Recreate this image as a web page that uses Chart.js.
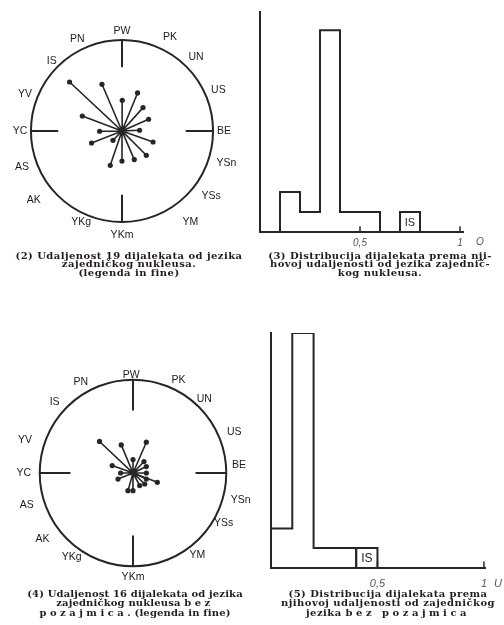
<!DOCTYPE html>
<html lang="hr">
<head>
<meta charset="UTF-8" />
<title>Udaljenost dijalekata od jezika zajedničkog nukleusa</title>
<script src="https://cdn.jsdelivr.net/npm/chart.js"></script>
<style>
  html, body { margin: 0; padding: 0; background: #fff; }
  body { width: 504px; height: 625px; position: relative; overflow: hidden; }
  canvas { position: absolute; }
  .cap { position: absolute; text-align: center; white-space: nowrap; font-family: "DejaVu Serif", serif; font-weight: bold; }
  .cap.top { font-size: 10px; line-height: 8.3px; letter-spacing: 0.45px; color: #221a1a; }
  .cap.bot { font-size: 10px; line-height: 9.3px; letter-spacing: 0.15px; color: #1e1e1e; }
  .cap.wide { letter-spacing: 0.45px; }
  .sp { letter-spacing: 3.5px; }
</style>
</head>
<body>

<canvas id="star1" width="244" height="244" style="left:0px; top:9px;"></canvas>
<canvas id="hist1" width="254" height="260" style="left:250px; top:0px;"></canvas>
<canvas id="star2" width="250" height="250" style="left:8px; top:348px;"></canvas>
<canvas id="hist2" width="254" height="290" style="left:250px; top:320px;"></canvas>

<div class="cap top" style="left:4px; top:252px; width:250px;">(2) Udaljenost 19 dijalekata od jezika<br>zajedničkog nukleusa.<br>(legenda in fine)</div>
<div class="cap top" style="left:260px; top:252px; width:240px;">(3) Distribucija dijalekata prema nji-<br>hovoj udaljenosti od jezika zajednič-<br>kog nukleusa.</div>
<div class="cap bot" style="left:10px; top:589px; width:250px;">(4) Udaljenost 16 dijalekata od jezika<br>zajedničkog nukleusa <span class="sp">bez</span><br><span class="sp">pozajmica</span>. (legenda in fine)</div>
<div class="cap bot wide" style="left:273px; top:589px; width:230px;">(5) Distribucija dijalekata prema<br>njihovoj udaljenosti od zajedničkog<br>jezika <span class="sp">bez pozajmica</span></div>

<script>
  // oznake dijalekata oko kruga
  const dialects = ['PW', 'PK', 'UN', 'US', 'BE', 'YSn', 'YSs', 'YM', 'YKm', 'YKg', 'AK', 'AS', 'YC', 'YV', 'IS', 'PN'];
  const labelAngle1 = [90, 63, 45, 23, 0, -17, -36, -53, -90, -114, -142, -160, 180, 159, 135, 116];
  const labelDist1 = [1.10, 1.16, 1.15, 1.15, 1.12, 1.20, 1.21, 1.25, 1.14, 1.10, 1.23, 1.17, 1.12, 1.14, 1.09, 1.12];
  const labelAngle2 = [91, 64, 46, 22, 4, -14, -29, -52, -90, -126, -144, -163, 180, 163, 138, 120];
  const labelDist2 = [1.05, 1.11, 1.10, 1.17, 1.14, 1.19, 1.11, 1.12, 1.12, 1.12, 1.20, 1.19, 1.17, 1.21, 1.13, 1.12];
  const axisAngles = [90, 0, -90, 180];

  // (2) krajevi zraka, polumjer kruga = 1
  const star1X = [-0.576, -0.220, 0.171, 0.003, 0.231, 0.292, -0.436, -0.246, 0.193, 0.341, -0.334, -0.099, 0.267, -0.129, 0.000, 0.135];
  const star1Y = [0.538, 0.513, 0.418, 0.337, 0.257, 0.129, 0.165, -0.003, 0.008, -0.121, -0.132, -0.102, -0.267, -0.377, -0.330, -0.314];

  // (4) bez pozajmica
  const star2X = [-0.359, -0.126, 0.143, 0.000, 0.118, 0.143, -0.223, -0.133, 0.143, -0.161, 0.261, 0.143, -0.054, 0.000, 0.072, 0.126];
  const star2Y = [0.338, 0.301, 0.330, 0.144, 0.123, 0.069, 0.080, 0.000, 0.000, -0.065, -0.100, -0.065, -0.189, -0.189, -0.135, -0.118];

  // (3) distribucija
  const hist1Edges = [0.1, 0.2, 0.3, 0.4, 0.5, 0.6];
  const hist1Counts = [2, 1, 10, 1, 1];
  const hist1Box = [0.7, 0.8];
  // (5) distribucija bez pozajmica
  const hist2Edges = [0, 0.1, 0.2, 0.4];
  const hist2Counts = [2, 12, 1];
  const hist2Box = [0.4, 0.5];
  const boxCount = 1;
  const boxLabel = 'IS';

  const xTickVals = [0.5, 1];
  const xTickText = ['0,5', '1'];

  const ink = '#262626';

  const radialPlugin = {
    id: 'radial',
    beforeDatasetsDraw(chart, args, opts) {
      const { ctx, scales: { x, y } } = chart;
      const cx = x.getPixelForValue(0), cy = y.getPixelForValue(0);
      const r = x.getPixelForValue(1) - cx;
      ctx.save();
      ctx.strokeStyle = ink;
      ctx.lineWidth = 2;
      ctx.beginPath();
      ctx.arc(cx, cy, r, 0, Math.PI * 2);
      ctx.stroke();
      axisAngles.forEach(a => {
        const t = a * Math.PI / 180;
        ctx.beginPath();
        ctx.moveTo(x.getPixelForValue(Math.cos(t)), y.getPixelForValue(Math.sin(t)));
        ctx.lineTo(x.getPixelForValue((1 - opts.tick) * Math.cos(t)), y.getPixelForValue((1 - opts.tick) * Math.sin(t)));
        ctx.stroke();
      });
      ctx.font = '10.5px "Liberation Sans"';
      ctx.fillStyle = '#1c1c1c';
      ctx.textAlign = 'center';
      ctx.textBaseline = 'middle';
      dialects.forEach((d, i) => {
        const t = opts.angles[i] * Math.PI / 180;
        ctx.fillText(d, x.getPixelForValue(opts.dists[i] * Math.cos(t)), y.getPixelForValue(opts.dists[i] * Math.sin(t)));
      });
      ctx.restore();
    }
  };

  function starChart(id, xs, ys, angles, dists, tick) {
    const pts = [];
    xs.forEach((v, i) => {
      pts.push({ x: 0, y: 0 });
      pts.push({ x: v, y: ys[i] });
    });
    return new Chart(document.getElementById(id), {
      type: 'scatter',
      data: {
        datasets: [{
          data: pts,
          showLine: true,
          borderColor: ink,
          borderWidth: 1.6,
          pointRadius: c => c.dataIndex % 2 ? 2.6 : 2.2,
          pointBackgroundColor: ink,
          pointBorderWidth: 0
        }]
      },
      options: {
        responsive: false,
        animation: false,
        events: [],
        layout: { padding: 0, autoPadding: false },
        plugins: {
          legend: { display: false },
          tooltip: { enabled: false },
          radial: { angles: angles, dists: dists, tick: tick }
        },
        scales: {
          x: { display: false, min: -1.34, max: 1.34 },
          y: { display: false, min: -1.34, max: 1.34 }
        }
      },
      plugins: [radialPlugin]
    });
  }

  const histPlugin = {
    id: 'histExtras',
    afterDatasetsDraw(chart, args, opts) {
      const { ctx, scales: { x, y } } = chart;
      const y0 = y.getPixelForValue(0);
      ctx.save();
      ctx.strokeStyle = ink;
      ctx.lineWidth = 1.5;
      x.ticks.forEach(t => {
        const px = x.getPixelForValue(t.value);
        ctx.beginPath();
        ctx.moveTo(px, y0);
        ctx.lineTo(px, y0 - 6);
        ctx.stroke();
      });
      ctx.fillStyle = ink;
      ctx.textAlign = 'center';
      ctx.textBaseline = 'middle';
      ctx.font = opts.boxFont;
      ctx.fillText(boxLabel, x.getPixelForValue((opts.box[0] + opts.box[1]) / 2), y.getPixelForValue(boxCount / 2) + 0.5);
      ctx.font = opts.tickFont;
      ctx.fillStyle = '#555';
      ctx.fillText(opts.unit, x.getPixelForValue(1) + opts.unitGap, y0 + opts.unitDy);
      ctx.restore();
    }
  };

  function histChart(id, edges, counts, box, yMax, xMax, pad, tickPad, fontSize, unit, unitGap) {
    const pts = [{ x: edges[0], y: 0 }];
    counts.forEach((c, i) => pts.push({ x: edges[i], y: c }));
    pts.push({ x: edges[edges.length - 1], y: 0 });
    const boxPts = [{ x: box[0], y: 0 }, { x: box[0], y: boxCount }, { x: box[1], y: 0 }];
    const tickFont = 'italic ' + fontSize + 'px "Liberation Sans"';
    return new Chart(document.getElementById(id), {
      type: 'line',
      data: {
        datasets: [
          { data: pts, stepped: 'before', borderColor: ink, borderWidth: 2, pointRadius: 0, fill: false },
          { data: boxPts, stepped: 'before', borderColor: ink, borderWidth: 2, pointRadius: 0, fill: false }
        ]
      },
      options: {
        responsive: false,
        animation: false,
        events: [],
        layout: { padding: pad, autoPadding: false },
        plugins: {
          legend: { display: false },
          tooltip: { enabled: false },
          histExtras: { box: box, boxFont: (fontSize + 1) + 'px "Liberation Sans"', tickFont: tickFont, unit: unit, unitGap: unitGap, unitDy: tickPad + fontSize * 0.55 }
        },
        scales: {
          x: {
            type: 'linear',
            min: 0,
            max: xMax,
            afterBuildTicks: s => { s.ticks = xTickVals.map(v => ({ value: v })); },
            ticks: {
              autoSkip: false,
              maxRotation: 0,
              padding: tickPad,
              color: '#555',
              font: { family: 'Liberation Sans', size: fontSize, style: 'italic' },
              callback: (v, i) => xTickText[i]
            },
            grid: { display: false, drawTicks: false },
            border: { color: ink, width: 2 }
          },
          y: {
            min: 0,
            max: yMax,
            ticks: { display: false },
            grid: { display: false, drawTicks: false },
            border: { color: ink, width: 2 }
          }
        }
      },
      plugins: [histPlugin]
    });
  }

  starChart('star1', star1X, star1Y, labelAngle1, labelDist1, 0.30);
  starChart('star2', star2X, star2Y, labelAngle2, labelDist2, 0.33);
  histChart('hist1', hist1Edges, hist1Counts, hist1Box, 10.9, 1.015, { left: 10, right: 41, top: 12, bottom: 6.7 }, 4.5, 10, 'O', 20);
  histChart('hist2', hist2Edges, hist2Counts, hist2Box, 12, 1.005, { left: 21, right: 19, top: 13, bottom: 9.3 }, 10, 11, 'U', 14);
</script>
</body>
</html>
